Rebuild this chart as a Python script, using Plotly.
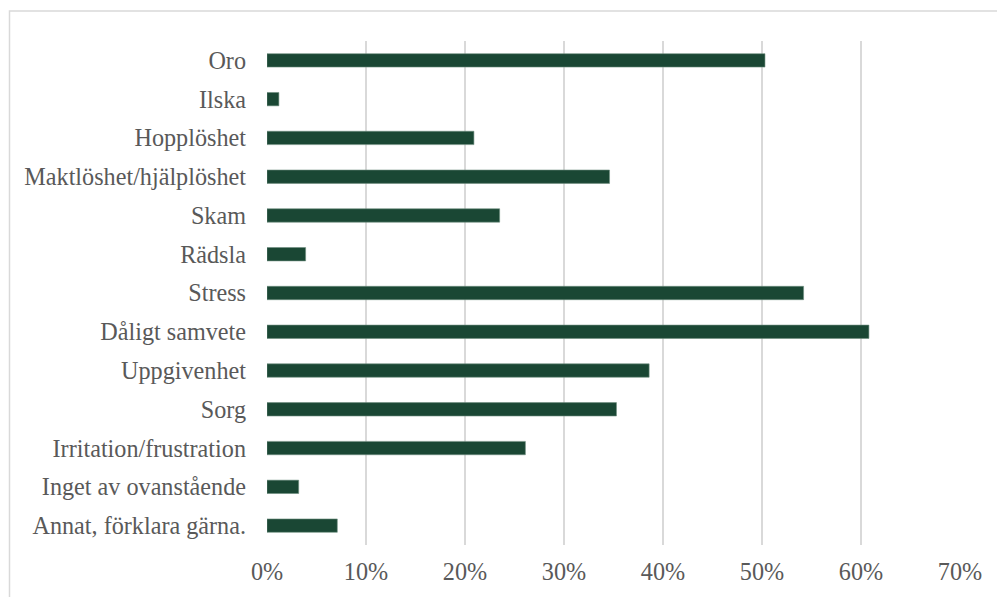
import plotly.graph_objects as go

categories = [
    "Oro",
    "Ilska",
    "Hopplöshet",
    "Maktlöshet/hjälplöshet",
    "Skam",
    "Rädsla",
    "Stress",
    "Dåligt samvete",
    "Uppgivenhet",
    "Sorg",
    "Irritation/frustration",
    "Inget av ovanstående",
    "Annat, förklara gärna.",
]
values = [0.503, 0.012, 0.209, 0.346, 0.235, 0.039, 0.542, 0.608, 0.386, 0.353, 0.261, 0.032, 0.071]
tick_vals = [0, 0.1, 0.2, 0.3, 0.4, 0.5, 0.6, 0.7]
tick_text = ["0%", "10%", "20%", "30%", "40%", "50%", "60%", "70%"]

W, H = 997, 597
L, R, T, B = 267, 37, 41, 52
pw, ph = W - L - R, H - T - B

def px_x(x):
    return (x - L) / pw

def px_y(y):
    return 1 - (y - T) / ph

fig = go.Figure(
    go.Bar(
        x=values,
        y=categories,
        orientation="h",
        marker=dict(color="#1a4734", line=dict(color="#6f8f80", width=0.6)),
        hoverinfo="x+y",
    )
)

font_family = "Liberation Serif"
fs = 24.2
fig.update_layout(
    width=W,
    height=H,
    margin=dict(l=L, r=R, t=T, b=B, pad=0),
    paper_bgcolor="white",
    plot_bgcolor="white",
    bargap=0.655,
    showlegend=False,
    font=dict(family=font_family, size=fs, color="#595959"),
    xaxis=dict(
        range=[0, 0.7],
        tickvals=tick_vals,
        ticktext=tick_text,
        showgrid=True,
        gridcolor="#d9d9d9",
        gridwidth=1.5,
        zeroline=False,
        showline=False,
        ticks="",
        ticklabelstandoff=10,
        tickfont=dict(family=font_family, size=fs, color="#595959"),
    ),
    yaxis=dict(
        autorange="reversed",
        showgrid=False,
        zeroline=False,
        showline=False,
        ticks="",
        ticklabelstandoff=20,
        tickfont=dict(family=font_family, size=fs, color="#595959"),
    ),
    shapes=[
        dict(
            type="rect",
            xref="paper",
            yref="paper",
            x0=px_x(9.5),
            x1=px_x(1005),
            y0=px_y(610),
            y1=px_y(11),
            line=dict(color="#d9d9d9", width=1.5),
            fillcolor="rgba(0,0,0,0)",
            layer="below",
        )
    ],
)

fig.write_html(
    "out.html",
    config={"displayModeBar": False},
    post_script="document.body.style.margin='0';document.body.style.overflow='hidden';",
)
